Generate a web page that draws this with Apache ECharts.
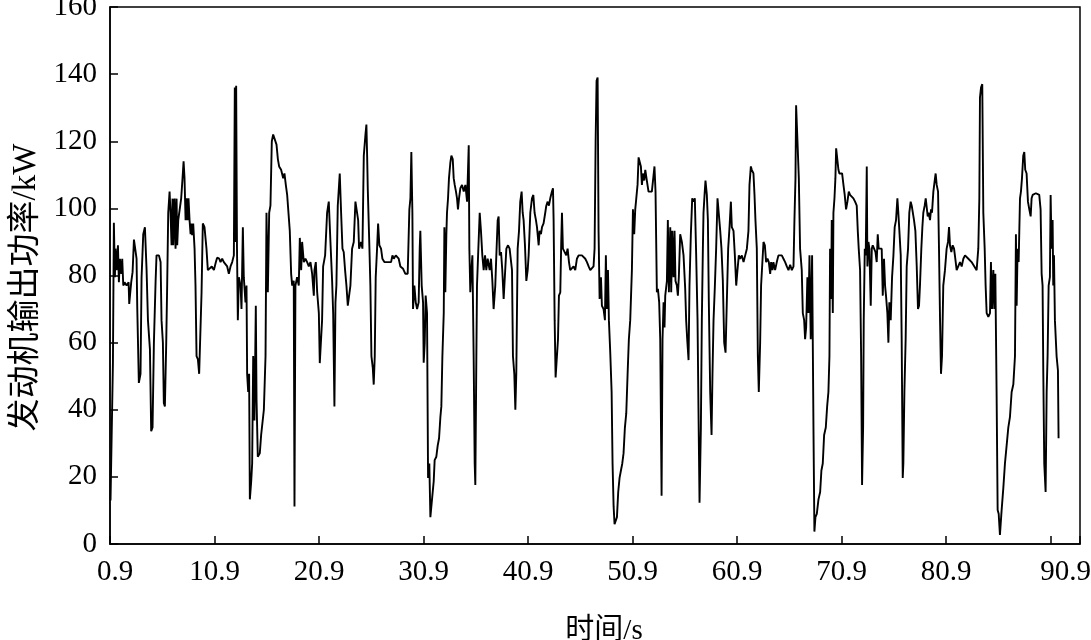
<!DOCTYPE html>
<html>
<head>
<meta charset="utf-8">
<script src="https://cdn.jsdelivr.net/npm/echarts@6/dist/echarts.min.js"></script>
<style>html,body{margin:0;padding:0;background:#fff}#c{width:1091px;height:640px}</style>
</head>
<body>
<div id="c"></div>
<script>
// Time (s)
const times = [
0.95,1.18,1.27,1.37,1.43,1.53,1.66,1.75,1.85,1.98,2.07,2.17,2.29,2.49,2.68,2.74,2.87,2.93,3.06,3.19,3.31,3.44,3.51,3.66,3.82,3.92,4.08,4.24,4.40,4.53,4.72,4.84,4.97,5.10,5.26,5.35,5.58,5.74,5.83,5.96,6.05,6.15,6.28,6.37,6.47,6.60,6.69,6.79,6.88,6.95,7.07,7.17,7.27,7.33,7.43,7.59,7.71,7.84,7.94,8.03,8.13,8.22,8.32,8.41,8.51,8.61,8.67,8.76,8.86,8.99,9.08,9.18,9.31,9.43,9.56,9.66,9.78,9.94,10.13,10.26,10.45,10.64,10.84,11.03,11.15,11.35,11.47,11.63,11.79,11.95,12.11,12.27,12.43,12.59,12.75,12.84,12.92,12.97,13.05,13.13,
13.23,13.39,13.48,13.61,13.70,13.86,13.96,14.02,14.12,14.21,14.28,14.41,14.50,14.60,14.72,14.85,14.92,15.04,15.23,15.36,15.46,15.62,15.78,15.87,16.00,16.13,16.25,16.38,16.51,16.67,16.83,16.96,17.08,17.27,17.37,17.47,17.59,17.72,17.85,18.01,18.10,18.23,18.33,18.48,18.55,18.64,18.80,18.96,19.06,19.19,19.28,19.44,19.60,19.76,19.92,20.08,20.24,20.40,20.46,20.59,20.72,20.88,20.97,21.10,21.19,21.29,21.48,21.67,21.83,21.99,22.15,22.25,22.37,22.47,22.56,22.69,22.88,23.01,23.14,23.26,23.39,23.52,23.65,23.77,23.90,24.06,24.22,24.38,24.54,24.64,24.73,24.92,25.05,25.18,25.34,25.43,25.50,
25.56,25.72,25.81,25.91,26.04,26.13,26.23,26.32,26.45,26.55,26.67,26.83,26.96,27.15,27.34,27.57,27.79,27.92,28.05,28.24,28.36,28.52,28.68,28.94,29.16,29.38,29.54,29.64,29.73,29.83,29.89,30.02,30.15,30.28,30.43,30.53,30.59,30.72,30.85,30.91,31.01,31.10,31.23,31.33,31.45,31.55,31.65,31.74,31.87,31.96,32.12,32.25,32.38,32.51,32.60,32.70,32.83,32.89,32.98,33.08,33.14,33.24,33.33,33.46,33.56,33.69,33.78,33.88,34.00,34.10,34.19,34.29,34.42,34.58,34.74,34.90,35.06,35.12,35.22,35.28,35.37,35.47,35.57,35.69,35.79,35.85,35.95,36.01,36.14,36.27,36.39,36.52,36.65,36.78,36.90,37.03,37.22,37.35,37.48,37.60,
37.76,37.86,37.99,38.08,38.18,38.31,38.43,38.56,38.72,38.82,38.98,39.13,39.26,39.36,39.45,39.58,39.68,39.77,39.90,40.03,40.15,40.28,40.38,40.47,40.60,40.73,40.86,40.95,41.11,41.27,41.40,41.52,41.65,41.75,41.91,42.00,42.13,42.23,42.38,42.54,42.64,42.77,42.89,43.02,43.18,43.28,43.34,43.44,43.53,43.66,43.76,43.85,43.98,44.07,44.14,44.23,44.36,44.55,44.68,44.81,44.93,45.09,45.25,45.41,45.57,45.73,45.89,46.05,46.21,46.37,46.53,46.69,46.85,47.00,47.16,47.26,47.36,47.45,47.55,47.64,47.74,47.87,47.96,48.12,48.25,48.34,48.44,48.54,48.63,48.76,48.89,48.98,49.08,49.17,49.30,49.40,49.52,49.65,49.78,49.91,50.03,50.16,50.29,50.42,50.54,
50.67,50.83,50.93,51.05,51.15,51.25,51.37,51.47,51.56,51.69,51.79,51.88,52.01,52.11,52.26,52.42,52.58,52.74,52.90,52.99,53.09,53.22,53.32,53.44,53.54,53.67,53.76,53.86,53.95,54.02,54.18,54.27,54.37,54.50,54.59,54.69,54.81,54.91,55.00,55.13,55.23,55.32,55.45,55.61,55.77,55.93,56.02,56.12,56.25,56.34,56.47,56.60,56.73,56.85,56.98,57.11,57.20,57.30,57.43,57.52,57.62,57.68,57.78,57.87,58.00,58.10,58.19,58.32,58.45,58.54,58.64,58.77,58.89,59.02,59.15,59.28,59.40,59.53,59.66,59.79,59.91,60.04,60.17,60.30,60.39,60.55,60.68,60.81,60.93,61.06,61.19,61.35,61.51,61.67,61.83,61.98,62.08,62.21,62.30,62.46,62.56,62.65,62.78,62.88,62.97,
63.10,63.19,63.32,63.42,63.55,63.67,63.80,63.93,64.06,64.15,64.28,64.37,64.53,64.69,64.85,65.01,65.17,65.33,65.49,65.65,65.81,65.97,66.13,66.29,66.38,66.48,66.54,66.67,66.80,66.92,67.08,67.18,67.31,67.40,67.50,67.62,67.72,67.82,67.94,68.07,68.20,68.29,68.39,68.52,68.68,68.84,68.96,69.09,69.22,69.38,69.51,69.63,69.73,69.79,69.89,69.95,70.05,70.11,70.21,70.30,70.37,70.46,70.59,70.68,70.81,70.94,71.07,71.19,71.32,71.45,71.58,71.70,71.86,72.02,72.18,72.34,72.44,72.53,72.66,72.76,72.85,72.95,73.01,73.11,73.20,73.30,73.36,73.46,73.55,73.68,73.78,73.87,74.00,74.13,74.25,74.35,74.44,
74.73,74.83,74.95,75.05,75.14,75.27,75.37,75.46,75.59,75.72,75.85,75.97,76.10,76.23,76.32,76.42,76.55,76.64,76.74,76.80,76.90,77.02,77.12,77.25,77.37,77.50,77.60,77.69,77.82,77.95,78.08,78.20,78.30,78.39,78.52,78.62,78.71,78.84,78.94,79.03,79.13,79.22,79.35,79.45,79.54,79.67,79.80,79.89,79.99,80.12,80.21,80.31,80.40,80.50,80.62,80.78,80.94,81.07,81.17,81.26,81.39,81.52,81.65,81.77,81.90,82.06,82.22,82.38,82.54,82.70,82.86,83.02,83.18,83.33,83.49,83.65,83.81,83.97,84.07,84.13,84.23,84.35,84.45,84.58,84.67,84.77,84.93,85.09,85.18,85.28,85.41,85.50,85.60,85.72,85.82,85.92,86.04,
86.20,86.36,86.52,86.68,86.84,87.00,87.16,87.32,87.48,87.57,87.64,87.73,87.83,87.96,88.05,88.15,88.27,88.37,88.46,88.59,88.72,88.85,88.98,89.07,89.17,89.29,89.48,89.61,89.80,89.93,90.03,90.12,90.19,90.28,90.41,90.51,90.60,90.70,90.82,90.89,90.98,91.08,91.14,91.21,91.30,91.46,91.59,91.65
];
// Engine output power (kW)
const power = [
13,54,95.7,79.5,88,81.6,89,78,85,80.5,85,77,78,77,78,71.5,71.5,78,81,90.7,88,85,70,48,50.7,79.5,92.3,94.4,81.6,66.7,58,33.6,34.7,60,78,86,86,84,66.7,60,42,41,60,77,98.7,105,98.7,89,102.9,89,102.9,88,102.9,89,96.5,96.5,103,109,114,109,96.5,103,96.5,103,96.5,92.3,95.5,92,95.5,88,77,56,55,50.7,50.7,75,95.5,94.4,88,81.6,81.6,82.7,81.6,84,85.3,85,84,85,84,84,82.7,80.5,82.7,84,86,136,90,136.5,88,66.7,
79.5,77,70,94.4,79.5,72,77,50.7,45.3,50.7,13.3,18.7,24,56,36.8,71,43,26,27,32.5,32.5,40,56,98.7,75,98.7,100.8,120,122,122,119,114.7,112.5,111.5,111.5,109,110.4,107,104,104,93.3,80.5,77,78.4,11.2,77,79.5,77,91.2,81.6,90,84,85,84,82.7,84,80.5,74,81.6,84,75,68.8,53.9,53.9,66.7,82.7,86,98.7,102,90,78.4,68.8,41,72,77,100.8,110.4,98.7,88,87,81.6,77,71,71,77,88,90,102,102,96.5,88,90,88,115.7,122,125,115.7,
106,88,77,56,52.5,47.5,56,79.5,88,95.5,89,88,85,84,84,84,84,86,85,86,86.4,85,82.7,82,80.5,80.5,99.7,103,116.8,98.7,70,77,72,70,72,88,93.3,77,72,54,60,74,68.8,19.7,24,8,8,14.4,18.7,25,26,29.3,31.5,37.9,41,56,68.8,94.4,75,92.3,98.7,103,109,113.6,115.7,114.7,109,107,105,103,99.7,103,106,107,105,107,102,102,118.8,88,75,81.6,86,56,24,17.6,56,77,88,98.7,93.3,86,81.6,86,81.6,85,81.6,85,78.4,70,
77,86,96.5,97.6,86,87,81.6,73,73,88,89,88,88,81.6,56,50.7,40,50.7,88,93.3,102,105,98.7,96.5,89,78.4,81.6,86,98.7,103,104,98.7,96.5,94.4,89,93.3,92.3,94.4,95.5,98.7,100.8,102,100.8,103,105,106,96.5,66.7,49.6,49.6,61,74,75,90,98.7,88,88,86,88,84,81.6,81.6,82.7,81.6,85,86,86,86,86,85,84,82.7,81.6,81.6,82.7,88,120,138,139,93.3,73,79.5,71,70,66.7,86,70,81.6,66.7,57,45.3,24,11.2,5.9,5.9,8,15.5,19.7,21.9,24,27,34.7,38.9,50.7,61,
66.7,81.6,99.7,92.3,99.7,103,107,115.2,115.2,112.5,107,110.4,108.3,111.5,108.3,105,105,105,105,112.5,105,75,76,72,61,14.4,61,72,64.5,74,78.4,96.5,75,94.4,75,93.3,79.5,93.3,78.4,77,74,79.5,92.3,90,86,76,66.7,61,54.8,77,92.3,103,102,103,86,66.7,40,12.3,34.7,66.7,88,98.7,104,108.3,104,96.5,72,45.3,32.5,50.7,66.7,77,88,103,103,93.3,88,78.4,60,57,72,88,94.4,102,94.4,93.3,86,77,81.6,86,85,86,84,86,88,93.3,107,112.5,111.5,110.4,104,96.5,88,56,45.3,
60,77,77,90,89,84,85,84,80.5,84,81.6,84,81.6,84,86,86.4,86,85,84,82.7,81.6,83.2,81.6,82.7,96.5,109,130.7,120,109,88,81.6,68.8,66.7,61,64.5,79.5,68.8,86,61,86,34.7,3.7,8,9,13.3,15.5,21.9,24,32.5,34.7,41,45.3,56,88,73,96.5,68.8,98.7,103,109,117.9,117.9,111.5,110.4,110.4,110.4,107,104,99.7,102,105,104,104,103,102,100.8,93.3,88,81.6,56,17.6,34.7,66.7,88,86,112.5,82.7,90,88,71,88,89,88,87,84,92.3,88,
88,74,85,77,74,68.8,60,72,66.7,79.5,86,94.4,96.5,103,98.7,93.3,86,61,19.7,24,45.3,61,82.7,88,98.7,102,100.8,100.8,96.5,93.3,82.7,70,71,77,88,94.4,98.7,100.8,103,103,97.6,98.7,96.5,99.7,98.7,105,108.3,110.4,107,105,88,66.7,50.7,56,77,81.6,88,90,94.4,89,87,89,88,85,81.6,81.6,84,82.7,85,86,86,85,85,84,83.2,82.7,81.6,88,103,133,136,137,98.7,88,77,68.8,67.7,68.8,84,70,81.6,70,80.5,45.3,10.1,9,2.7,
10,16.5,24,29.3,34.7,37.9,45.3,47.5,56,92.3,71,88,84,103,105,109,115.7,116.8,111.5,110.4,102,99.7,97.6,103,104,104.5,104.5,105,104,99.7,80.5,77,50.7,24,15.5,45.3,56,77,79.5,104,88,96.5,77,86,66.7,56,51.7,31.5
];
// Axis ticks
const xTicks = ['0.9','10.9','20.9','30.9','40.9','50.9','60.9','70.9','80.9','90.9'];
const yTicks = [0,20,40,60,80,100,120,140,160];

const chart = echarts.init(document.getElementById('c'), null, {renderer:'canvas'});
const serif = "'Liberation Serif','Noto Sans CJK SC',serif";
const data = times.map((t,i)=>[t, power[i]]);
chart.setOption({
  animation:false,
  backgroundColor:'#fff',
  grid:{left:110,right:11,top:7,bottom:96,containLabel:false,outerBoundsMode:'none',show:true,borderColor:'#000',borderWidth:1.5,backgroundColor:'transparent'},
  xAxis:{
    type:'value', min:0.9, max:93.7, interval:10,
    name:'时间/s', nameLocation:'middle', nameGap:73,
    nameTextStyle:{fontFamily:serif,fontSize:29,color:'#000',padding:[0,0,0,18]},
    axisLine:{show:true,lineStyle:{color:'#000',width:1.5}},
    axisTick:{show:true,inside:true,length:8,lineStyle:{color:'#000',width:1.5}},
    splitLine:{show:false},
    axisLabel:{
      color:'#000',fontFamily:serif,fontSize:29,margin:14,
      formatter:function(v){
        const s=v.toFixed(1);
        const i=xTicks.indexOf(s);
        if(i<0) return '';
        if(i===0) return '{l|'+s+'}';
        return i===xTicks.length-1 ? '{r|'+s+'}' : s;
      },
      rich:{
        r:{fontFamily:serif,fontSize:29,color:'#000',padding:[0,0,0,30]},
        l:{fontFamily:serif,fontSize:29,color:'#000',padding:[0,0,0,10]}
      }
    }
  },
  yAxis:{
    type:'value', min:yTicks[0], max:yTicks[yTicks.length-1], interval:20,
    name:'发动机输出功率/kW', nameLocation:'middle', nameGap:66, nameRotate:90,
    nameTextStyle:{fontFamily:serif,fontSize:33,color:'#000',padding:[0,24,0,0]},
    axisLine:{show:true,lineStyle:{color:'#000',width:1.5}},
    axisTick:{show:true,inside:true,length:8,lineStyle:{color:'#000',width:1.5}},
    splitLine:{show:false},
    axisLabel:{color:'#000',fontFamily:serif,fontSize:29,margin:13}
  },
  series:[{
    type:'line', data:data, showSymbol:false, symbol:'none',
    lineStyle:{color:'#000',width:1.9}, clip:true
  }]
});
</script>
</body>
</html>
